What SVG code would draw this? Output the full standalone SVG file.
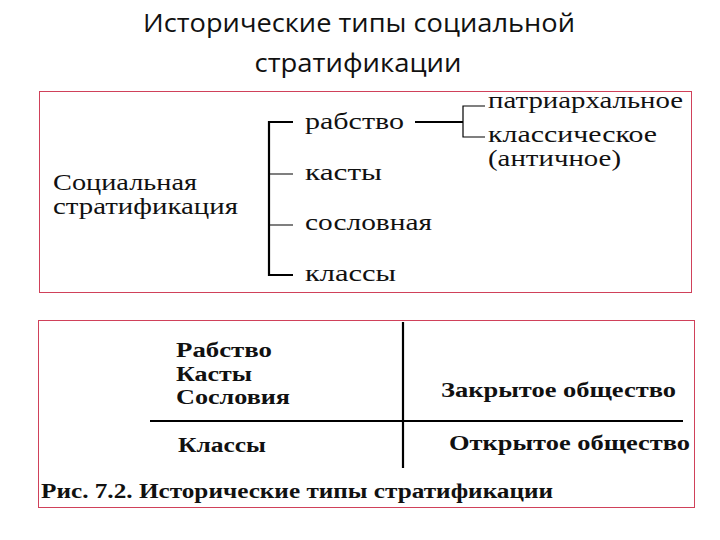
<svg xmlns="http://www.w3.org/2000/svg" width="720" height="540" viewBox="0 0 720 540">
<style>
.title{font-family:"Open Sans","Liberation Sans",sans-serif;font-size:26px;fill:#111}
.mono{font-family:"Liberation Serif","DejaVu Serif",serif;font-size:23px;fill:#111}
.bold{font-family:"Liberation Serif","DejaVu Serif",serif;font-size:20px;font-weight:bold;fill:#111}
.frame{fill:#fff;stroke:#d0415a;stroke-width:1}
.thick{stroke:#000;stroke-width:2.2;fill:none}
.thin{stroke:#000;stroke-width:1.2;fill:none}
</style>
<rect width="720" height="540" fill="#fff"/>
<g id="title">
<text class="title" x="359" y="32" text-anchor="middle" textLength="432" lengthAdjust="spacingAndGlyphs">Исторические типы социальной</text>
<text class="title" x="358" y="72" text-anchor="middle" textLength="207" lengthAdjust="spacingAndGlyphs">стратификации</text>
</g>
<rect class="frame" x="39.5" y="91.5" width="652" height="201"/>
<rect class="frame" x="38.5" y="320.5" width="656" height="187"/>
<g id="connectors">
<path class="thick" d="M293 122 H269 V275 H293"/>
<path class="thin" d="M269 174 H293 M269 225 H293"/>
<path class="thick" d="M415 122 H463"/>
<path class="thin" d="M485 106 H463 V137 H485"/>
<path class="thick" d="M150 421 H683"/>
<path class="thick" d="M403 322 V468"/>
</g>
<g id="root"><text class="mono" x="53" y="190" textLength="144" lengthAdjust="spacingAndGlyphs">Социальная</text>
<text class="mono" x="53" y="214" textLength="185" lengthAdjust="spacingAndGlyphs">стратификация</text></g>
<g id="slavery"><text class="mono" x="305" y="129" textLength="99" lengthAdjust="spacingAndGlyphs">рабство</text></g>
<g id="castes"><text class="mono" x="305" y="180" textLength="77" lengthAdjust="spacingAndGlyphs">касты</text></g>
<g id="estates"><text class="mono" x="305" y="230" textLength="127" lengthAdjust="spacingAndGlyphs">сословная</text></g>
<g id="classes"><text class="mono" x="305" y="281" textLength="91" lengthAdjust="spacingAndGlyphs">классы</text></g>
<g id="patriarchal"><text class="mono" x="488" y="108" textLength="195" lengthAdjust="spacingAndGlyphs">патриархальное</text></g>
<g id="classical"><text class="mono" x="488" y="142" textLength="169" lengthAdjust="spacingAndGlyphs">классическое</text>
<text class="mono" x="488" y="166" textLength="133" lengthAdjust="spacingAndGlyphs">(античное)</text></g>
<g id="closed-list"><text class="bold" x="176" y="357" textLength="96" lengthAdjust="spacingAndGlyphs">Рабство</text>
<text class="bold" x="176" y="381" textLength="76" lengthAdjust="spacingAndGlyphs">Касты</text>
<text class="bold" x="176" y="404" textLength="114" lengthAdjust="spacingAndGlyphs">Сословия</text></g>
<g id="open-list"><text class="bold" x="178" y="452" textLength="88" lengthAdjust="spacingAndGlyphs">Классы</text></g>
<g id="closed"><text class="bold" x="441" y="397" textLength="235" lengthAdjust="spacingAndGlyphs">Закрытое общество</text></g>
<g id="open"><text class="bold" x="449" y="450" textLength="241" lengthAdjust="spacingAndGlyphs">Открытое общество</text></g>
<g id="caption"><text class="bold" x="41" y="498" textLength="512" lengthAdjust="spacingAndGlyphs">Рис. 7.2. Исторические типы стратификации</text></g>
</svg>
